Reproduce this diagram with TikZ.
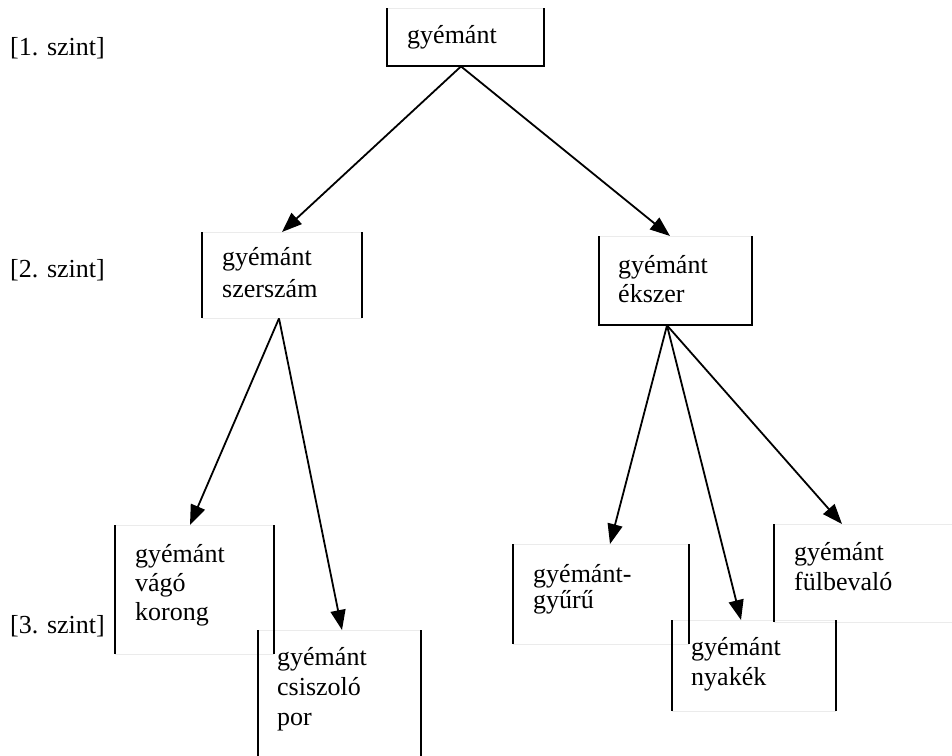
\documentclass[tikz,border=0pt]{standalone}
\usepackage{fontspec}
\setmainfont{Liberation Serif}
\usetikzlibrary{arrows.meta,calc}
\begin{document}
\begin{tikzpicture}[x=1pt,y=-1pt,
  box/.style={rectangle,inner sep=0pt,draw=none},
  side/.style={line width=2pt,black},
  faint/.style={line width=0.8pt,black!8},
  arr/.style={line width=1.8pt,-{Triangle[length=20pt,width=15pt]}},
  txt/.style={anchor=base west,inner sep=0pt,align=left,font=\fontsize{26}{#1}\selectfont},
  lvl/.style={anchor=base west,inner sep=0pt,font=\fontsize{26}{30}\selectfont}]
\useasboundingbox (0,0) rectangle (952,755);
\clip (0,0) rectangle (952,755);
% box frames (named)
\node[box,minimum width=157pt,minimum height=58pt,anchor=north west] (b1) at (387,8) {};
\node[box,minimum width=160pt,minimum height=86pt,anchor=north west] (b2a) at (202,232) {};
\node[box,minimum width=153pt,minimum height=89pt,anchor=north west] (b2b) at (599,236) {};
\node[box,minimum width=159pt,minimum height=129pt,anchor=north west] (b3a) at (115,525) {};
\node[box,minimum width=163pt,minimum height=130pt,anchor=north west] (b3b) at (258,630) {};
\node[box,minimum width=176pt,minimum height=100pt,anchor=north west] (b3c) at (513,544) {};
\node[box,minimum width=164pt,minimum height=91pt,anchor=north west] (b3d) at (672,620) {};
\node[box,minimum width=200pt,minimum height=98pt,anchor=north west] (b3e) at (774,524) {};
% faint top/bottom edges
\draw[faint] (b1.north west) -- (b1.north east);
\draw[faint] (b2a.north west) -- (b2a.north east) (b2a.south west) -- (b2a.south east);
\draw[faint] (b2b.north west) -- (b2b.north east);
\draw[faint] (b3a.north west) -- (b3a.north east) (b3a.south west) -- (b3a.south east);
\draw[faint] (b3b.north west) -- (b3b.north east);
\draw[faint] (b3c.north west) -- (b3c.north east) (b3c.south west) -- (b3c.south east);
\draw[faint] (b3d.north west) -- (b3d.north east) (b3d.south west) -- (b3d.south east);
\draw[faint] (b3e.north west) -- (b3e.north east) (b3e.south west) -- (b3e.south east);
% black sides
\draw[side] (b1.north west) -- (b1.south west) -- (b1.south east) -- (b1.north east);
\draw[side] (b2a.north west) -- (b2a.south west) (b2a.north east) -- (b2a.south east);
\draw[side] (b2b.north west) -- (b2b.south west) -- (b2b.south east) -- (b2b.north east);
\draw[side] (b3a.north west) -- (b3a.south west) (b3a.north east) -- (b3a.south east);
\draw[side] (b3b.north west) -- (b3b.south west) (b3b.north east) -- (b3b.south east);
\draw[side] (b3c.north west) -- (b3c.south west) (b3c.north east) -- (b3c.south east);
\draw[side] (b3d.north west) -- (b3d.south west) (b3d.north east) -- (b3d.south east);
\draw[side] (b3e.north west) -- (b3e.south west);
% texts (anchor = baseline of the last line)
\node[txt=30] (t1) at (407,43) {gyémánt};
\node[txt=32] (t2a) at (222,297) {gyémánt\\szerszám};
\node[txt=29] (t2b) at (618,302) {gyémánt\\ékszer};
\node[txt=29] (t3a) at (135,620) {gyémánt\\vágó\\korong};
\node[txt=30] (t3b) at (277,725) {gyémánt\\csiszoló\\por};
\node[txt=26] (t3c) at (533,608) {gyémánt-\\gyűrű};
\node[txt=30] (t3d) at (691,685) {gyémánt\\nyakék};
\node[txt=30] (t3e) at (794,590) {gyémánt\\fülbevaló};
\node[lvl] (l1) at (10,55) {[1. szint]};
\node[lvl] (l2) at (10,277) {[2. szint]};
\node[lvl] (l3) at (10,633) {[3. szint]};
% arrows
\draw[arr] ([xshift=74pt]b1.south west) -- ([xshift=80pt]b2a.north west);
\draw[arr] ([xshift=74pt]b1.south west) -- ([xshift=71pt]b2b.north west);
\draw[arr] ([xshift=77pt]b2a.south west) -- ([xshift=75pt]b3a.north west);
\draw[arr] ([xshift=77pt]b2a.south west) -- ([xshift=84pt]b3b.north west);
\draw[arr] ([xshift=68pt]b2b.south west) -- ([xshift=97pt]b3c.north west);
\draw[arr] ([xshift=68pt]b2b.south west) -- ([xshift=69pt]b3d.north west);
\draw[arr] ([xshift=68pt]b2b.south west) -- ([xshift=68pt]b3e.north west);
\end{tikzpicture}
\end{document}
